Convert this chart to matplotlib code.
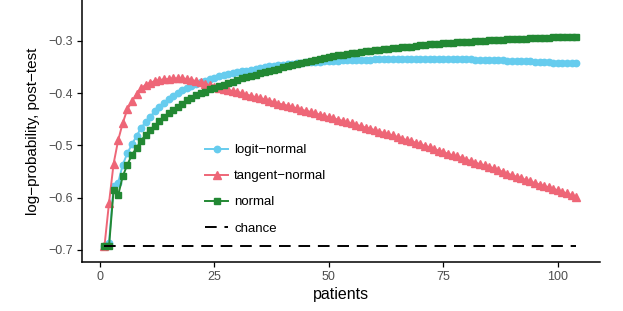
import matplotlib
matplotlib.use("Agg")
import matplotlib.pyplot as plt

plt.rcParams['font.family'] = ['Liberation Sans', 'DejaVu Sans']

# patients 1..104
patients = list(range(1, 105))

logit_normal = [
    -0.693, -0.686, -0.577, -0.571, -0.537, -0.515, -0.498, -0.482, -0.467, -0.455,
    -0.445, -0.435, -0.427, -0.419, -0.412, -0.406, -0.400, -0.395, -0.390, -0.386,
    -0.382, -0.379, -0.376, -0.373, -0.371, -0.368, -0.366, -0.364, -0.362, -0.360,
    -0.358, -0.357, -0.355, -0.353, -0.352, -0.351, -0.349, -0.348, -0.347, -0.346,
    -0.345, -0.344, -0.343, -0.342, -0.341, -0.341, -0.340, -0.340, -0.339, -0.339,
    -0.338, -0.338, -0.337, -0.337, -0.337, -0.336, -0.336, -0.336, -0.336, -0.335,
    -0.335, -0.335, -0.335, -0.335, -0.335, -0.334, -0.334, -0.334, -0.334, -0.334,
    -0.334, -0.334, -0.334, -0.334, -0.334, -0.334, -0.335, -0.335, -0.335, -0.335,
    -0.335, -0.336, -0.336, -0.336, -0.336, -0.337, -0.337, -0.337, -0.338, -0.338,
    -0.338, -0.339, -0.339, -0.339, -0.340, -0.340, -0.341, -0.341, -0.342, -0.342,
    -0.342, -0.343, -0.343, -0.343,
]

tangent_normal = [
    -0.693, -0.610, -0.535, -0.490, -0.457, -0.431, -0.416, -0.402, -0.391, -0.384,
    -0.380, -0.377, -0.375, -0.374, -0.373, -0.372, -0.372, -0.372, -0.373, -0.375,
    -0.377, -0.379, -0.382, -0.385, -0.388, -0.390, -0.392, -0.394, -0.396, -0.398,
    -0.400, -0.403, -0.405, -0.408, -0.410, -0.412, -0.415, -0.417, -0.420, -0.422,
    -0.424, -0.427, -0.429, -0.432, -0.434, -0.436, -0.439, -0.441, -0.444, -0.446,
    -0.448, -0.451, -0.453, -0.456, -0.458, -0.461, -0.463, -0.466, -0.468, -0.471,
    -0.474, -0.476, -0.479, -0.481, -0.484, -0.487, -0.490, -0.492, -0.495, -0.498,
    -0.501, -0.504, -0.507, -0.510, -0.513, -0.516, -0.519, -0.521, -0.524, -0.527,
    -0.530, -0.533, -0.536, -0.538, -0.541, -0.544, -0.547, -0.551, -0.554, -0.557,
    -0.560, -0.563, -0.566, -0.569, -0.572, -0.575, -0.578, -0.580, -0.583, -0.586,
    -0.589, -0.592, -0.595, -0.598,
]

normal = [
    -0.693, -0.693, -0.585, -0.595, -0.559, -0.537, -0.518, -0.505, -0.491, -0.480,
    -0.471, -0.462, -0.454, -0.446, -0.439, -0.432, -0.426, -0.420, -0.414, -0.409,
    -0.404, -0.400, -0.397, -0.393, -0.390, -0.387, -0.384, -0.381, -0.378, -0.375,
    -0.372, -0.370, -0.367, -0.365, -0.362, -0.360, -0.358, -0.355, -0.353, -0.351,
    -0.349, -0.347, -0.345, -0.343, -0.341, -0.339, -0.337, -0.335, -0.333, -0.331,
    -0.330, -0.328, -0.327, -0.325, -0.324, -0.323, -0.321, -0.320, -0.319, -0.318,
    -0.317, -0.316, -0.315, -0.314, -0.313, -0.312, -0.311, -0.311, -0.310, -0.309,
    -0.308, -0.307, -0.306, -0.306, -0.305, -0.304, -0.304, -0.303, -0.303, -0.302,
    -0.302, -0.301, -0.300, -0.300, -0.299, -0.299, -0.298, -0.298, -0.297, -0.297,
    -0.297, -0.296, -0.296, -0.295, -0.295, -0.295, -0.294, -0.294, -0.293, -0.293,
    -0.293, -0.292, -0.292, -0.292,
]

chance_x = [1, 104]
chance_y = [-0.693, -0.693]

x_ticks = [0, 25, 50, 75, 100]
y_ticks = [-0.7, -0.6, -0.5, -0.4, -0.3]

BLUE = '#66CCEE'
RED = '#EE6677'
GREEN = '#228833'
TICK_COLOR = '#4D4D4D'

fig = plt.figure(figsize=(6.23, 3.11), dpi=100)
ax = fig.add_axes([82 / 623, 49 / 311, 518 / 623, 262 / 311])

ax.plot(patients, logit_normal, color=BLUE, lw=1.4, marker='o', ms=4.6,
        label='logit\u2212normal')
ax.plot(patients, tangent_normal, color=RED, lw=1.4, marker='^', ms=5.2,
        label='tangent\u2212normal')
ax.plot(patients, normal, color=GREEN, lw=1.4, marker='s', ms=4.3,
        label='normal')
ax.plot(chance_x, chance_y, color='black', lw=1.4, ls=(0, (6, 4)),
        label='chance')

ax.set_xlim(-3.9, 109.2)
ax.set_ylim(-0.723, -0.222)
ax.set_xticks(x_ticks)
ax.set_yticks(y_ticks)
ax.set_yticklabels([f'{v:.1f}'.replace('-', '\u2212') for v in y_ticks])

for side in ('top', 'right'):
    ax.spines[side].set_visible(False)
for side in ('left', 'bottom'):
    ax.spines[side].set_linewidth(1.1)
ax.tick_params(length=3.5, width=0.9, colors='black', labelcolor=TICK_COLOR,
               labelsize=9, pad=3)

ax.set_xlabel('patients', fontsize=11.5, labelpad=3)
ax.set_ylabel('log\u2212probability, post\u2212test', fontsize=11, labelpad=6)

leg = ax.legend(loc='upper left', bbox_to_anchor=(205 / 623, 1 - 144 / 311),
                bbox_transform=fig.transFigure, frameon=False, fontsize=9.5,
                handlelength=1.75, handletextpad=0.45, labelspacing=1.05,
                borderpad=0, borderaxespad=0)

fig.savefig('out.png', dpi=100, facecolor='white')
